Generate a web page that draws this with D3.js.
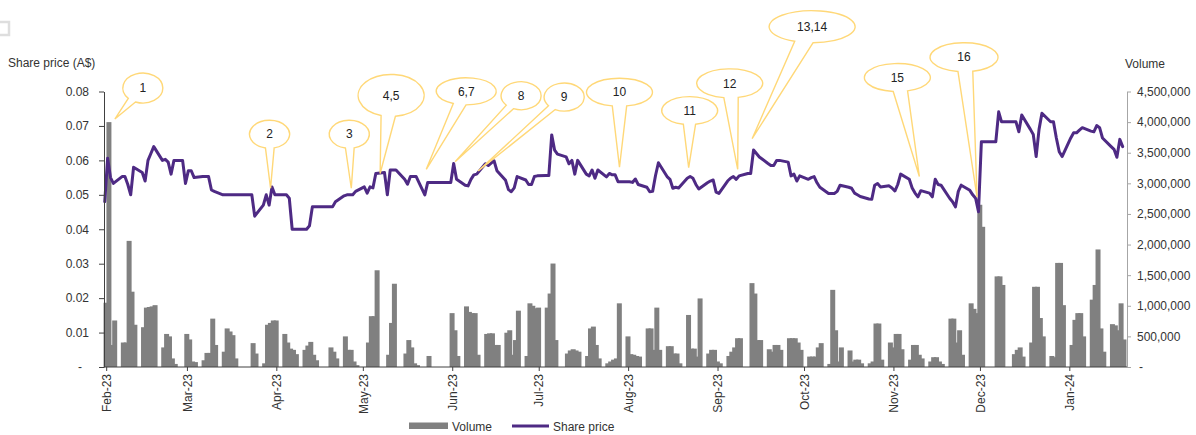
<!DOCTYPE html>
<html><head><meta charset="utf-8">
<script src="https://cdn.jsdelivr.net/npm/d3@7"></script>
<style>
html,body{margin:0;padding:0;background:#fff;}
svg{display:block;font-family:"Liberation Sans",Arial,Helvetica,sans-serif;}
</style>
</head><body>
<svg id="chart" width="1196" height="435"></svg>
<script>
// ---------- DATA ----------
const firstDay = "2023-01-31";   // first weekday shown
const lastDay  = "2024-01-19";   // last weekday shown

// Share price (A$), one value per weekday, grouped by week
const sharePrice = [
  0.048,0.0606,0.055,0.0533,
  0.0553,0.0553,0.053,0.050,0.058,
  0.0565,0.054,0.060,0.062,0.064,
  0.060,0.0603,0.0595,0.056,0.060,
  0.060,0.0533,0.057,0.057,0.055,
  0.0553,0.0553,0.0553,0.0514,0.051,
  0.050,0.050,0.050,0.050,0.050,
  0.050,0.050,0.050,0.050,0.0438,
  0.047,0.050,0.047,0.0523,0.050,
  0.050,0.050,0.049,0.040,0.040,
  0.040,0.040,0.041,0.0465,0.0465,
  0.0465,0.0465,0.0465,0.0465,0.048,
  0.0497,0.050,0.050,0.050,0.051,
  0.0523,0.0505,0.0523,0.052,0.0562,
  0.0565,0.050,0.0572,0.0572,0.0572,
  0.0545,0.0531,0.0553,0.0553,0.0553,
  0.050,0.0536,0.0536,0.0536,0.0536,
  0.0536,0.0536,0.0536,0.0591,0.0545,
  0.0528,0.0526,0.0545,0.0558,0.056,
  0.059,0.0585,0.0592,0.0599,0.057,
  0.0542,0.0515,0.0509,0.052,0.0553,
  0.0543,0.053,0.053,0.0553,0.0555,
  0.0556,0.0556,0.0674,0.063,0.0618,
  0.061,0.059,0.060,0.056,0.060,
  0.056,0.0555,0.0572,0.0548,0.0572,
  0.0552,0.0562,0.0558,0.0558,0.0538,
  0.0538,0.0538,0.0536,0.0546,0.053,
  0.0522,0.0509,0.051,0.0556,0.0593,
  0.0553,0.0545,0.0519,0.0522,0.052,
  0.0548,0.0553,0.0548,0.053,0.0517,
  0.0535,0.054,0.0543,0.0508,0.0504,
  0.054,0.0548,0.0553,0.0545,0.0555,
  0.0562,0.0562,0.063,0.062,0.061,
  0.0591,0.0585,0.0585,0.060,0.060,
  0.0595,0.0555,0.056,0.054,0.0555,
  0.0545,0.055,0.0553,0.0535,0.0522,
  0.0504,0.0504,0.0504,0.051,0.0528,
  0.0522,0.0519,0.0505,0.050,0.0495,
  0.0488,0.0487,0.0528,0.0533,0.0523,
  0.0526,0.052,0.0511,0.053,0.056,
  0.0545,0.052,0.0505,0.0494,0.0512,
  0.0505,0.0494,0.0545,0.053,0.0528,
  0.049,0.048,0.0465,0.051,0.0528,
  0.0513,0.050,0.049,0.0451,0.0654,
  0.0654,0.0654,0.0654,0.0741,0.0712,
  0.0712,0.0712,0.0712,0.0683,0.0732,
  0.069,0.0675,0.0611,0.069,0.0737,
  0.0712,0.0712,0.0665,0.0625,0.0611,
  0.0665,0.068,0.068,0.0688,0.0695,
  0.0685,0.0683,0.0701,0.0695,0.0665,
  0.064,0.0632,0.0609,0.0661,0.064
];

// Volume in millions of shares, one value per weekday, grouped by week
const volumeM = [
  1.05,4.0,0.36,0.76,
  0.40,0.40,2.06,1.23,0.69,
  0.65,0.97,0.98,0.99,1.01,
  0.32,0.54,0.50,0.14,0.05,
  0,0.54,0.45,0.09,0.08,
  0.11,0.23,0.23,0.79,0.36,
  0.25,0.63,0.58,0.52,0.14,
  0,0,0,0.39,0.22,
  0.06,0.69,0.72,0.76,0.76,
  0.54,0.40,0.30,0.28,0.21,
  0.28,0.35,0.41,0.20,0.11,
  0,0,0.32,0.25,0.14,
  0.50,0.28,0.28,0.09,0.03,
  0,0.40,0.83,0.83,1.58,
  0,0.20,0.72,1.36,0,
  0.22,0.44,0.32,0.06,0.03,
  0,0.18,0,0,0,
  0,0,0.88,0.60,0.18,
  0.99,0.90,0.88,0.88,0.20,
  0.54,0.55,0.55,0.36,0.36,
  0.56,0.60,0.20,0.44,0.92,
  0.18,1.04,1.00,0.96,0.97,
  0.97,1.20,1.69,0.44,0,
  0.22,0.27,0.29,0.27,0.25,
  0.18,0.63,0.66,0.36,0.14,
  0.06,0.09,0.12,0.14,1.04,
  0.50,0.21,0.20,0.18,0.17,
  0.63,0.63,0.28,0.97,0.28,
  0.34,0.34,0.22,0.22,0.06,
  0.85,0.30,0.30,0.17,1.12,
  0.22,0.28,0.28,0.09,0.06,
  0.18,0.25,0.32,0.47,0.47,
  0,1.37,1.20,0.44,0.44,
  0.29,0.25,0.36,0.36,0.28,
  0.47,0.47,0.47,0.40,0.28,
  0.17,0.17,0.17,0.32,0.39,
  0.05,1.26,0.60,0.09,0.32,
  0.27,0.09,0.12,0.12,0.06,
  0.06,0.09,0.71,0.71,0.12,
  0.40,0.32,0.54,0.54,0.29,
  0.12,0.36,0.36,0.20,0.14,
  0.09,0.16,0.16,0.09,0.05,
  0.79,0.79,0.40,0.60,0.20,
  1.04,0.95,0.88,2.65,2.29,
  0,0,1.48,1.48,1.34,
  0,0.21,0.28,0.32,0.17,
  0.40,1.31,1.31,0.80,0.50,
  0.18,0.16,1.70,1.70,1.01,
  0.36,0.77,0.88,0.88,0.50,
  1.10,1.34,1.92,0.63,0.25,
  0.70,0.68,0.60,1.04,0.45
];

const priceTicks  = [0,0.01,0.02,0.03,0.04,0.05,0.06,0.07,0.08];
const volumeTicks = [0,500000,1000000,1500000,2000000,2500000,3000000,3500000,4000000,4500000];
const monthTicks  = ["2023-02-01","2023-03-01","2023-04-01","2023-05-01","2023-06-01","2023-07-01",
                     "2023-08-01","2023-09-01","2023-10-01","2023-11-01","2023-12-01","2024-01-01"];

// numbered announcement callouts: anchor (date, price level) + balloon layout
const calloutLabels = ["1","2","3","4,5","6,7","8","9","10","11","12","13,14","15","16"];
const calloutDates  = ["2023-02-04","2023-03-30","2023-04-27","2023-05-07","2023-05-23","2023-06-02","2023-06-10",
                       "2023-07-29","2023-08-22","2023-09-08","2023-09-13","2023-11-10","2023-11-30"];
const calloutValues = [0.0720,0.0519,0.0519,0.0562,0.0574,0.0596,0.0569,0.0580,0.0579,0.0574,0.0663,0.0553,0.0493];

const seriesNames = ["Volume","Share price"];

// ---------- LAYOUT ----------
const W = 1196, H = 435;
const plot = {left:104, right:1127, top:91.5, bottom:367};
const colBar = "#808080", colLine = "#4e2a84", colCallout = "#ffd878";
const balloon = [ // dx, dy from anchor to balloon centre, rx, ry
  [28,-31,20,15],[-1,-54,20,14],[-2,-54,20,14],[11,-78,33,21],[40,-78,30,13.5],
  [66,-66,20,14],[86,-74,20,14],[0,-75,33,14],[1,-57,28,14],[-8,-86,33,14.5],
  [60,-112,43,16],[-22,-99,33,14],[-13,-140,34,14.5]
];

const parse = d3.timeParse("%Y-%m-%d");
const start = parse(firstDay), end = parse(lastDay);
const days = d3.timeDay.range(start, d3.timeDay.offset(end,1)).filter(d => d.getDay()!==0 && d.getDay()!==6);
const n = Math.min(days.length, sharePrice.length, volumeM.length);
const data = d3.range(n).map(i => ({date:days[i], price:sharePrice[i], vol:volumeM[i]*1e6}));

const x = d3.scaleTime().domain([start, d3.timeDay.offset(end,2)]).range([103.3, plot.right]);
const slot = x(d3.timeDay.offset(start,1)) - x(start);
const xc = d => x(d) + slot/2;
const yP = d3.scaleLinear().domain([0,0.08]).range([plot.bottom, plot.top]);
const yV = d3.scaleLinear().domain([0,4.5e6]).range([plot.bottom, plot.top]);

const svg = d3.select("#chart");
svg.append("rect").attr("width",W).attr("height",H).attr("fill","#fff");

// small frame at top-left corner
svg.append("rect").attr("x",-5).attr("y",22).attr("width",14).attr("height",13)
  .attr("fill","none").attr("stroke","#dedede").attr("stroke-width",2.5);

// volume bars
svg.append("g").selectAll("rect").data(data.filter(d=>d.vol>0)).join("rect")
  .attr("x", d => xc(d.date) - 1.2)
  .attr("width", 5)
  .attr("y", d => yV(d.vol))
  .attr("height", d => plot.bottom - yV(d.vol))
  .attr("fill", colBar);

// share price line
svg.append("path").datum(data)
  .attr("d", d3.line().x(d => xc(d.date)).y(d => yP(d.price)))
  .attr("fill","none").attr("stroke",colLine).attr("stroke-width",3)
  .attr("stroke-linejoin","round").attr("stroke-linecap","round");

// axes
const styleAxis = (g, col) => {
  g.selectAll("path,line").attr("stroke", col).attr("stroke-width",1);
  g.selectAll("text").attr("fill","#333").attr("font-size",12)
   .attr("font-family",'"Liberation Sans",Arial,sans-serif');
  g.attr("font-family",null).attr("font-size",null);
};
const gL = svg.append("g").attr("transform",`translate(${plot.left},0)`)
  .call(d3.axisLeft(yP).tickValues(priceTicks).tickSize(5).tickSizeOuter(0).tickPadding(10)
    .tickFormat(v => v===0 ? "-" : d3.format(".2f")(v)));
styleAxis(gL, "#404040");
gL.selectAll(".tick text").filter(v => v===0).attr("dx",-7);

const gR = svg.append("g").attr("transform",`translate(${plot.right},0)`)
  .call(d3.axisRight(yV).tickValues(volumeTicks).tickSize(4).tickSizeOuter(0).tickPadding(6)
    .tickFormat(v => v===0 ? "-" : d3.format(",")(v)));
styleAxis(gR, "#a6a6a6");
gR.selectAll(".tick text").filter(v => v===0).attr("dx",2);

const gB = svg.append("g").attr("transform",`translate(0,${plot.bottom})`)
  .call(d3.axisBottom(x).tickValues(monthTicks.map(parse)).tickSize(4).tickSizeOuter(0)
    .tickFormat(d3.timeFormat("%b-%y")));
gB.select(".domain").attr("d", `M${plot.left},0H${plot.right}`);
styleAxis(gB, "#404040");
gB.selectAll(".tick text")
  .attr("transform","translate(0,7) rotate(-90)")
  .attr("text-anchor","end").attr("x",0).attr("y",0).attr("dy","0.35em");

// axis titles
svg.append("text").attr("x",8).attr("y",67).attr("font-size",12).attr("fill","#333").text("Share price (A$)");
svg.append("text").attr("x",1125).attr("y",68).attr("font-size",12).attr("fill","#333").text("Volume");

// callouts
function calloutPath(cx, cy, rx, ry, tx, ty, dlt){
  const th = Math.atan2((ty-cy)/ry, (tx-cx)/rx);
  const p = a => [cx + rx*Math.cos(a), cy + ry*Math.sin(a)];
  const [x1,y1] = p(th-dlt), [x2,y2] = p(th+dlt);
  return `M${x1},${y1}L${tx},${ty}L${x2},${y2}A${rx},${ry} 0 1 1 ${x1},${y1}Z`;
}
const gC = svg.append("g");
calloutLabels.forEach((lab,i) => {
  const tx = x(parse(calloutDates[i])), ty = yP(calloutValues[i]);
  const [dx,dy,rx,ry] = balloon[i];
  const cx = tx+dx, cy = ty+dy;
  gC.append("path").attr("d", calloutPath(cx,cy,rx,ry,tx,ty,0.22))
    .attr("fill","#fff").attr("fill-opacity",0.55)
    .attr("stroke",colCallout).attr("stroke-width",1.4).attr("stroke-linejoin","miter");
  gC.append("text").attr("x",cx).attr("y",cy).attr("dy","0.35em").attr("text-anchor","middle")
    .attr("font-size",12).attr("fill","#222").text(lab);
});

// legend
const lg = svg.append("g");
lg.append("rect").attr("x",409).attr("y",422.5).attr("width",39).attr("height",6.5).attr("fill",colBar);
lg.append("text").attr("x",452).attr("y",431).attr("font-size",12).attr("fill","#333").text(seriesNames[0]);
lg.append("line").attr("x1",512).attr("x2",549).attr("y1",426).attr("y2",426)
  .attr("stroke",colLine).attr("stroke-width",3);
lg.append("text").attr("x",553).attr("y",431).attr("font-size",12).attr("fill","#333").text(seriesNames[1]);
</script>
</body></html>
